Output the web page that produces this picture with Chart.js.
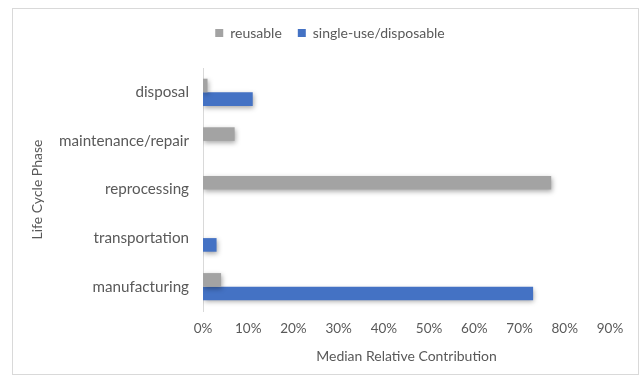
<!DOCTYPE html>
<html>
<head>
<meta charset="utf-8">
<script src="https://cdn.jsdelivr.net/npm/chart.js@4/dist/chart.umd.min.js"></script>
<style>
  html, body { margin: 0; padding: 0; background: #fff; }
  #wrap { position: relative; width: 641px; height: 379px; }
  #frame { position: absolute; left: 12px; top: 8px; width: 627px; height: 367px; border: 1px solid #d9d9d9; box-sizing: border-box; }
  canvas { position: absolute; left: 0; top: 0; }
</style>
</head>
<body>
<div id="wrap">
  <div id="frame"></div>
  <canvas id="chart" width="641" height="379"></canvas>
</div>
<script>
// life cycle phases, top to bottom
const PHASES = ["disposal", "maintenance/repair", "reprocessing", "transportation", "manufacturing"];
// median relative contribution per phase
const REUSABLE = [0.01, 0.07, 0.77, 0, 0.04];
const SINGLE_USE = [0.11, 0, 0, 0.03, 0.73];
const X_MAX = 0.9;

const TEXT = "#595959";
const FONT = "Lato";

// soft drop shadow under the bars
const barShadow = {
    id: "barShadow",
    beforeDatasetsDraw: (chart) => {
        const ctx = chart.ctx;
        ctx.save();
        ctx.shadowColor = "rgba(0,0,0,0.35)";
        ctx.shadowBlur = 5;
        ctx.shadowOffsetX = 1;
        ctx.shadowOffsetY = 2;
    },
    afterDatasetsDraw: (chart) => {
        chart.ctx.restore();
    }
};

// extra room under the legend, and nudge it right over the whole frame
const legendGap = {
    id: "legendGap",
    beforeUpdate: (chart) => {
        if (!chart.legend || chart.legend._gapDone) return;
        const fit = chart.legend.fit;
        chart.legend.fit = function () {
            fit.call(this);
            this.height += 18;
        };
        chart.legend._gapDone = true;
    },
    afterLayout: (chart) => {
        chart.legend.left += 18;
        chart.legend.right += 18;
    }
};

new Chart(document.getElementById("chart"), {
    type: "bar",
    data: {
        labels: PHASES,
        datasets: [
            {
                label: "reusable",
                data: REUSABLE,
                backgroundColor: "#a3a3a3",
                categoryPercentage: 0.56,
                barPercentage: 1
            },
            {
                label: "single-use/disposable",
                data: SINGLE_USE,
                backgroundColor: "#4472c4",
                categoryPercentage: 0.56,
                barPercentage: 1
            }
        ]
    },
    options: {
        indexAxis: "y",
        responsive: false,
        animation: false,
        layout: { padding: { left: 14, top: 10, right: 31, bottom: 14 } },
        plugins: {
            legend: {
                position: "top",
                labels: {
                    boxWidth: 8,
                    boxHeight: 8,
                    padding: 16,
                    color: TEXT,
                    font: { family: FONT, size: 14 }
                }
            },
            tooltip: { enabled: false }
        },
        scales: {
            x: {
                min: 0,
                max: X_MAX,
                ticks: {
                    stepSize: 0.1,
                    padding: 10,
                    color: TEXT,
                    font: { family: FONT, size: 13.5 },
                    callback: (v) => Math.round(v * 100) + "%"
                },
                grid: { display: false, drawTicks: false },
                border: { display: false },
                title: {
                    display: true,
                    text: "Median Relative Contribution",
                    color: TEXT,
                    font: { family: FONT, size: 14 },
                    padding: { top: 8, bottom: 0 }
                },
                afterFit: (scale) => { scale.height = 54; }
            },
            y: {
                ticks: {
                    padding: 14,
                    color: TEXT,
                    font: { family: FONT, size: 15.2 }
                },
                grid: { display: false, drawTicks: false },
                border: { display: true, color: "#d9d9d9" },
                title: {
                    display: true,
                    text: "Life Cycle Phase",
                    color: TEXT,
                    font: { family: FONT, size: 14 },
                    padding: { top: 15, bottom: 0 }
                },
                afterFit: (scale) => { scale.width = 189; }
            }
        }
    },
    plugins: [barShadow, legendGap]
});
</script>
</body>
</html>
